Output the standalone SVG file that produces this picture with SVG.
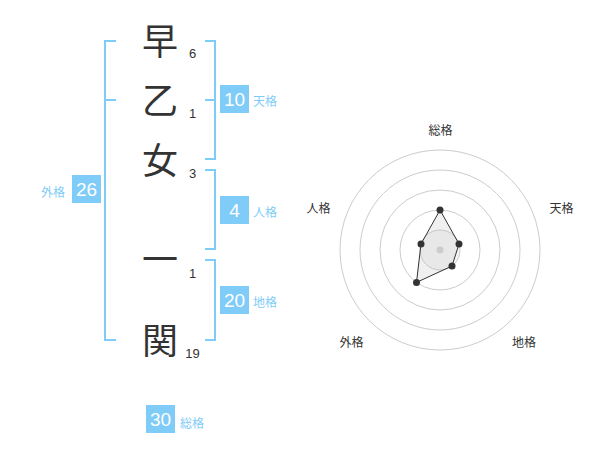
<svg xmlns="http://www.w3.org/2000/svg" width="600" height="470" viewBox="0 0 600 470">
<style>
.big{font-family:"Noto Sans CJK JP","Noto Sans CJK SC",sans-serif;font-size:36px;fill:#333;text-anchor:middle}
.num{font-family:"Liberation Sans",Arial,sans-serif;font-size:13px;fill:#333;text-anchor:middle}
.br{fill:none;stroke:#80ccf8;stroke-width:2}
.box{fill:#80ccf8}
.bn{font-family:"Liberation Sans",Arial,sans-serif;font-size:19px;fill:#fff;text-anchor:middle}
.bl{font-family:"Noto Sans CJK JP","Noto Sans CJK SC",sans-serif;font-size:12px;fill:#80ccf8}
.rl{font-family:"Noto Sans CJK JP","Noto Sans CJK SC",sans-serif;font-size:12px;fill:#333;text-anchor:middle}
.ring{fill:none;stroke:#ccc;stroke-width:1}
.pt{fill:#333}
</style>
<rect width="600" height="470" fill="#fff"/>
<g id="chars">
<text class="big" x="160" y="55">早</text>
<text class="big" x="160" y="114">乙</text>
<text class="big" x="160" y="174">女</text>
<text class="big" x="160" y="273">一</text>
<text class="big" x="160" y="354">関</text>
</g>
<g id="strokes">
<text class="num" x="192.5" y="58">6</text>
<text class="num" x="192.5" y="118">1</text>
<text class="num" x="192.5" y="178">3</text>
<text class="num" x="192.5" y="277.5">1</text>
<text class="num" x="192.5" y="357.5">19</text>
</g>
<g id="connectors">
<path class="br" d="M116,41 H105 V340 H116 M105,100 H116"/>
<path class="br" d="M205,41 H215 V159 H205 M215,100 H205"/>
<path class="br" d="M205,170 H215 V249 H205"/>
<path class="br" d="M205,260 H215 V340 H205"/>
</g>
<g id="tenkaku">
<rect class="box" x="220" y="85" width="29" height="28"/>
<text class="bn" x="234.5" y="106">10</text>
<text class="bl" x="253" y="106">天格</text>
</g>
<g id="jinkaku">
<rect class="box" x="220" y="196" width="29" height="28"/>
<text class="bn" x="234.5" y="217">4</text>
<text class="bl" x="253" y="217">人格</text>
</g>
<g id="chikaku">
<rect class="box" x="220" y="286" width="29" height="28"/>
<text class="bn" x="234.5" y="307">20</text>
<text class="bl" x="253" y="307">地格</text>
</g>
<g id="gaikaku">
<rect class="box" x="72" y="175" width="29" height="28"/>
<text class="bn" x="86.5" y="196">26</text>
<text class="bl" x="41" y="197">外格</text>
</g>
<g id="soukaku">
<rect class="box" x="146" y="405" width="29" height="28"/>
<text class="bn" x="160.5" y="426">30</text>
<text class="bl" x="180" y="428">総格</text>
</g>
<g id="radar">
<circle cx="440" cy="250" r="20" fill="#000" fill-opacity="0.04" stroke="#ccc"/>
<circle class="ring" cx="440" cy="250" r="40"/>
<circle class="ring" cx="440" cy="250" r="60"/>
<circle class="ring" cx="440" cy="250" r="80"/>
<circle class="ring" cx="440" cy="250" r="100"/>
<polygon points="440,210 459,244 452,266 416.5,282.4 421,244" fill="#bbb" fill-opacity="0.22" stroke="#333" stroke-width="1"/>
<circle cx="440" cy="250" r="3.5" fill="#ccc"/>
<circle class="pt" cx="440" cy="210" r="3.5"/>
<circle class="pt" cx="459" cy="244" r="3.5"/>
<circle class="pt" cx="452" cy="266" r="3.5"/>
<circle class="pt" cx="416.5" cy="282.4" r="3.5"/>
<circle class="pt" cx="421" cy="244" r="3.5"/>
<text class="rl" x="440.5" y="134.5">総格</text>
<text class="rl" x="561.5" y="212.5">天格</text>
<text class="rl" x="318.5" y="212.5">人格</text>
<text class="rl" x="351.5" y="346.5">外格</text>
<text class="rl" x="524" y="346.5">地格</text>
</g>
</svg>
